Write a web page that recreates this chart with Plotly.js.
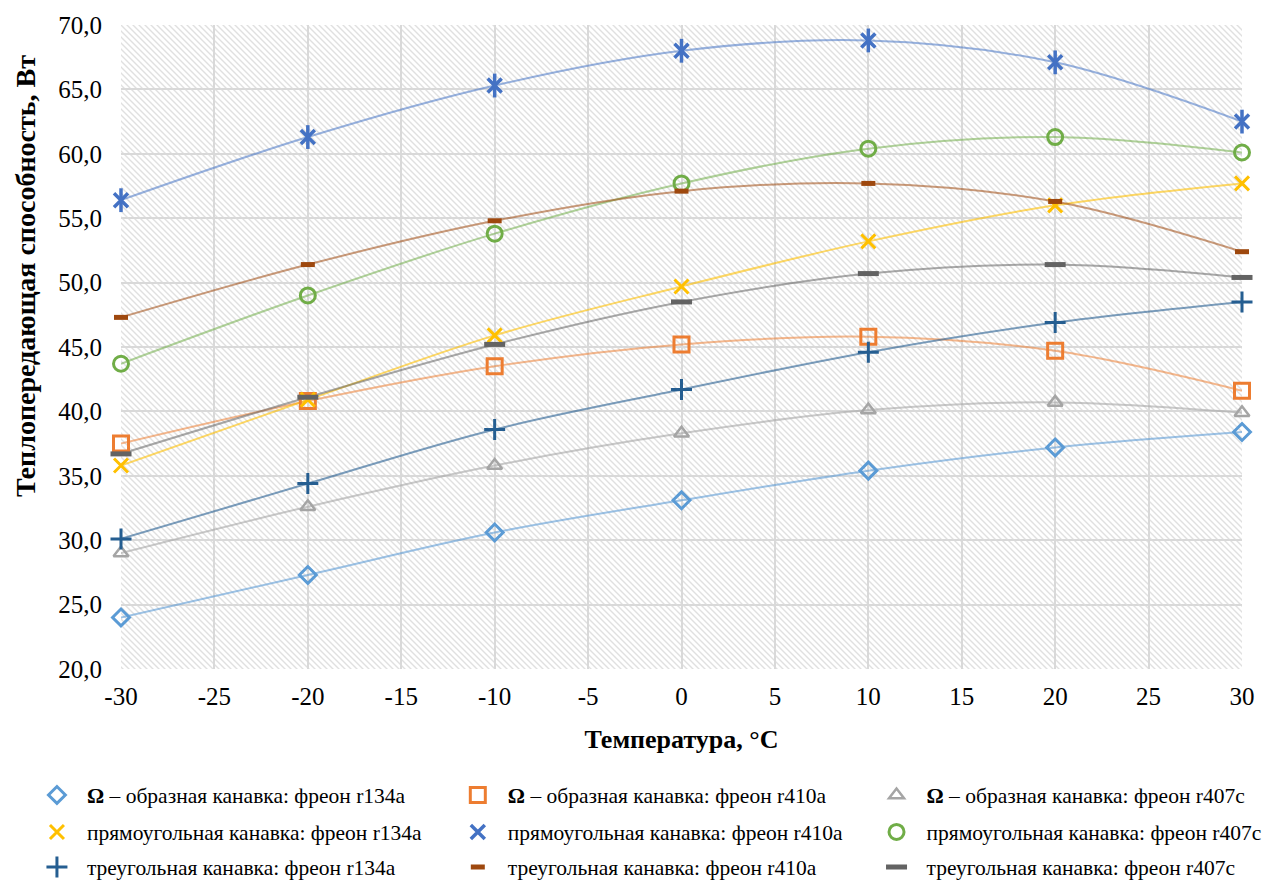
<!DOCTYPE html>
<html><head><meta charset="utf-8">
<script src="https://cdn.plot.ly/plotly-3.0.1.min.js"></script>
<style>html,body{margin:0;padding:0;background:#fff}#chart{width:1265px;height:881px}</style>
</head><body><div id="chart"></div>
<script>
const temps = [-30, -20, -10, 0, 10, 20, 30];
const omegaR134a = [24.0, 27.3, 30.6, 33.1, 35.4, 37.2, 38.4];
const omegaR410a = [37.5, 40.8, 43.5, 45.2, 45.8, 44.7, 41.6];
const omegaR407c = [29.0, 32.6, 35.8, 38.3, 40.1, 40.7, 39.9];
const rectR134a = [35.8, 40.9, 45.9, 49.7, 53.2, 56.0, 57.7];
const rectR410a = [56.4, 61.3, 65.3, 68.0, 68.8, 67.1, 62.5];
const rectR407c = [43.7, 49.0, 53.8, 57.7, 60.4, 61.3, 60.1];
const triR134a = [30.1, 34.4, 38.6, 41.7, 44.6, 46.9, 48.5];
const triR410a = [47.3, 51.4, 54.8, 57.1, 57.7, 56.3, 52.4];
const triR407c = [36.7, 41.1, 45.2, 48.5, 50.7, 51.4, 50.4];
const seriesNames = [
  '<b>Ω</b> – образная канавка: фреон r134a',
  '<b>Ω</b> – образная канавка: фреон r410a',
  '<b>Ω</b> – образная канавка: фреон r407c',
  'прямоугольная канавка: фреон r134a',
  'прямоугольная канавка: фреон r410a',
  'прямоугольная канавка: фреон r407c',
  'треугольная канавка: фреон r134a',
  'треугольная канавка: фреон r410a',
  'треугольная канавка: фреон r407c'
];
const xTickVals = [-30, -25, -20, -15, -10, -5, 0, 5, 10, 15, 20, 25, 30];
const xTickText = ['-30', '-25', '-20', '-15', '-10', '-5', '0', '5', '10', '15', '20', '25', '30'];
const yTickVals = [20, 25, 30, 35, 40, 45, 50, 55, 60, 65, 70];
const xTitle = 'Температура, °C';
const yTitle = 'Теплопередающая способность, Вт';

const values = [omegaR134a, omegaR410a, omegaR407c, rectR134a, rectR410a, rectR407c, triR134a, triR410a, triR407c];
const styles = [
  {c:'#5b9bd5', l:'rgba(91,155,213,0.6)', s:'diamond-open', size:13, w:3},
  {c:'#ed7d31', l:'rgba(237,125,49,0.55)', s:'square-open', size:15, w:3},
  {c:'#a5a5a5', l:'rgba(165,165,165,0.6)', s:'triangle-up-open', size:13, w:2.5},
  {c:'#ffc000', l:'rgba(255,192,0,0.6)', s:'x-thin-open', size:14, w:3},
  {c:'#4472c4', l:'rgba(68,114,196,0.55)', s:'x-thin-open', size:14, w:3.5},
  {c:'#70ad47', l:'rgba(112,173,71,0.55)', s:'circle-open', size:15, w:3},
  {c:'#255e91', l:'rgba(37,94,145,0.6)', s:'cross-thin-open', size:15, w:3},
  {c:'#9e480e', l:'rgba(158,72,14,0.55)', s:'line-ew-open', size:10, w:5},
  {c:'#636363', l:'rgba(99,99,99,0.55)', s:'line-ew-open', size:15, w:5}
];
const legendIds = ['legend','legend2','legend3','legend4','legend5','legend6','legend7','legend8','legend9'];
const legendCols = [0.0213, 0.354, 0.685];
const legendRows = [795, 832, 867];

const traces = [];
values.forEach((v, i) => {
  traces.push({
    x: temps, y: v, type: 'scatter', mode: 'lines', showlegend: false, hoverinfo: 'skip',
    line: {shape: 'spline', smoothing: 1, color: styles[i].l, width: 2}
  });
});
values.forEach((v, i) => {
  traces.push({
    x: temps, y: v, name: seriesNames[i], type: 'scatter', mode: 'markers',
    marker: {symbol: styles[i].s, size: styles[i].size, color: styles[i].c, line: {color: styles[i].c, width: styles[i].w}},
    legend: legendIds[i], cliponaxis: false
  });
  if (i === 4) {
    traces.push({
      x: temps, y: v, type: 'scatter', mode: 'markers', showlegend: false, cliponaxis: false,
      marker: {symbol: 'line-ns-open', size: 17, color: styles[i].c, line: {color: styles[i].c, width: 3.5}}
    });
  }
});

const W = 1121, H = 644;
const svg = `<svg xmlns='http://www.w3.org/2000/svg' width='${W}' height='${H}'><defs><pattern id='p' width='6' height='6' patternUnits='userSpaceOnUse'><path d='M-1,-1 L7,7 M-1,5 L1,7 M5,-1 L7,1' stroke='#e0e0e0' stroke-width='1.4'/></pattern></defs><rect width='100%' height='100%' fill='url(#p)'/></svg>`;

const font = {family: '"Liberation Serif", "Times New Roman", serif', color: '#000'};
const legendAt = (i) => ({
  orientation: 'h', xref: 'container', yref: 'container',
  x: legendCols[i % 3], xanchor: 'left',
  y: 1 - legendRows[Math.floor(i / 3)] / 881, yanchor: 'middle',
  font: Object.assign({size: 21.5}, font), bgcolor: 'rgba(0,0,0,0)', itemwidth: 50
});

const layout = {
  width: 1265, height: 881,
  margin: {l: 121, r: 23, t: 25, b: 212},
  paper_bgcolor: '#fff', plot_bgcolor: '#fff',
  separators: ', ',
  font: Object.assign({size: 25}, font),
  showlegend: true,
  xaxis: {
    range: [-30, 30], tickvals: xTickVals, ticktext: xTickText,
    showgrid: true, gridcolor: '#d9d9d9', gridwidth: 2, zeroline: false, showline: false,
    ticks: '', ticklabelstandoff: 10, tickfont: Object.assign({size: 25}, font),
    title: {text: '<b>' + xTitle + '</b>', font: Object.assign({size: 26}, font), standoff: 20}
  },
  yaxis: {
    range: [20, 70], tickvals: yTickVals, tickformat: '.1f',
    showgrid: true, gridcolor: '#d9d9d9', gridwidth: 2, zeroline: false, showline: false,
    ticks: '', ticklabelstandoff: 18, tickfont: Object.assign({size: 25}, font)
  },
  annotations: [{
    text: '<b>' + yTitle + '</b>', textangle: -90, showarrow: false,
    xref: 'paper', yref: 'paper', x: (25 - 121) / 1121, y: (669 - 276) / 644,
    xanchor: 'center', yanchor: 'middle', font: Object.assign({size: 28}, font)
  }],
  images: [{
    source: 'data:image/svg+xml;charset=utf-8,' + encodeURIComponent(svg),
    xref: 'paper', yref: 'paper', x: 0, y: 1, sizex: 1, sizey: 1,
    xanchor: 'left', yanchor: 'top', sizing: 'stretch', layer: 'below'
  }]
};
legendIds.forEach((id, i) => { layout[id] = legendAt(i); });

Plotly.newPlot('chart', traces, layout, {displayModeBar: false, staticPlot: true});
</script></body></html>
